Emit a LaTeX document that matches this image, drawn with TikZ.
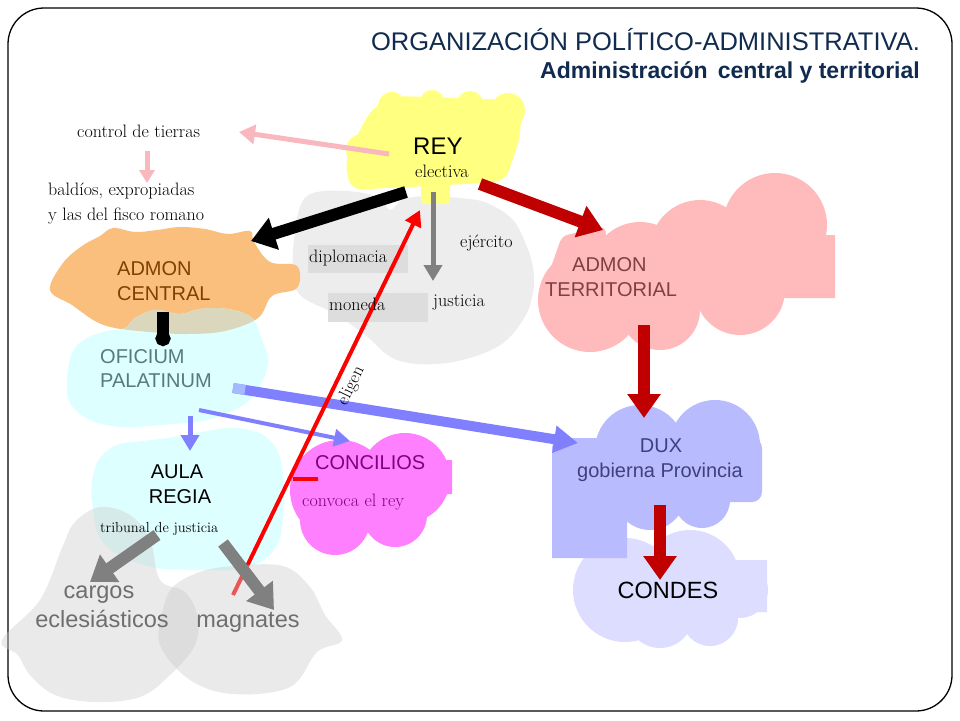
\documentclass[tikz,border=0pt]{standalone}
\usepackage{fontspec}
\newfontfamily\arialf{Liberation Sans}
\usetikzlibrary{arrows.meta,calc}
\definecolor{navy}{RGB}{16,43,79}
\definecolor{reyyel}{RGB}{255,255,128}
\definecolor{cloudgrey}{RGB}{237,237,237}
\definecolor{botgrey}{RGB}{205,205,205}
\definecolor{orangec}{RGB}{250,190,125}
\definecolor{tanc}{RGB}{218,215,188}
\definecolor{cyanc}{RGB}{222,255,255}
\definecolor{pinkc}{RGB}{255,187,187}
\definecolor{duxc}{RGB}{185,187,255}
\definecolor{condesc}{RGB}{221,221,255}
\definecolor{magc}{RGB}{255,128,255}
\definecolor{darkredc}{RGB}{192,0,0}
\definecolor{arrowgrey}{RGB}{128,128,128}
\definecolor{bluearr}{RGB}{128,128,255}
\definecolor{lightbluearr}{RGB}{165,185,255}
\definecolor{pinkarr}{RGB}{248,184,190}
\definecolor{boxgrey}{RGB}{221,221,221}
\definecolor{brownt}{RGB}{128,64,0}
\definecolor{tealt}{RGB}{90,122,122}
\definecolor{terrt}{RGB}{128,64,64}
\definecolor{purplet}{RGB}{128,0,128}
\definecolor{duxt}{RGB}{64,64,128}
\definecolor{bigt}{RGB}{110,110,110}
\begin{document}
\begin{tikzpicture}[x=1pt,y=-1pt,
  sanslbl/.style={font=\arialf\fontsize{20}{24}\selectfont, inner sep=0pt},
  biglbl/.style={font=\arialf\fontsize{23.5}{28}\selectfont, inner sep=0pt},
  seriflbl/.style={font=\fontsize{18}{21}\selectfont, inner sep=0pt},
  smallserif/.style={font=\fontsize{14.5}{17}\selectfont, inner sep=0pt},
  heavyarr/.style={line width=12pt, -{Triangle[length=24pt,width=32pt]}},
  mediumarr/.style={line width=5pt, -{Triangle[length=16pt,width=18pt]}},
  lightarr/.style={line width=4pt, -{Triangle[length=16pt,width=17pt]}},
  blob/.style={smooth cycle, tension=0.6}
]
\useasboundingbox (0,0) rectangle (960,720);
\fill[white] (0,0) rectangle (960,720);

% frame
\draw[line width=1.3pt, rounded corners=36pt] (8,8) rectangle (952,711);

% title
\node[anchor=base east, inner sep=0pt, text=navy, font=\arialf\fontsize{25.5}{30}\selectfont] (title1) at (920,50) {ORGANIZACIÓN POLÍTICO-ADMINISTRATIVA.};
\node[anchor=base east, inner sep=0pt, text=navy, font=\arialf\bfseries\fontsize{23}{27}\selectfont] (title2) at (920,78) {Administración\ \,central y territorial};

% grey cloud behind REY
\fill[cloudgrey] plot[blob] coordinates {(313,193) (347,191) (377,197) (390,210) (402,200) (425,196) (460,198) (487,203) (513,220) (527,247) (533,268) (533,293) (523,320) (497,347) (447,363) (397,360) (363,333) (333,313) (300,295) (293,270) (294,240) (300,207)};

% REY cloud
\fill[reyyel, rounded corners=12pt] (372,108) -- (395,96) -- (522,100) -- (520,138) -- (505,182) -- (350,190) -- (345,158) -- cycle;
\fill[reyyel] (392,106) circle[radius=14pt] (432,102) circle[radius=12pt] (470,104) circle[radius=13pt] (508,110) circle[radius=17pt]
  (362,150) circle[radius=16pt];
\fill[reyyel, rounded corners=4pt] (421,180) rectangle (450,204);

% ADMON CENTRAL (orange) and OFICIUM (cyan)
\def\orangepath{plot[blob] coordinates {(50,290) (63,263) (82,246) (100,236) (113,228) (135,232) (157,230) (180,227) (205,229) (228,234) (250,231) (254,242) (270,262) (297,266) (297,288) (272,296) (258,318) (225,331) (187,334) (150,332) (115,328) (95,321) (72,305)}}
\def\cyanpath{plot[blob] coordinates {(67,380) (72,353) (85,339) (107,331) (125,328) (135,318) (155,310) (180,314) (200,309) (228,309) (252,318) (262,340) (268,363) (258,390) (240,407) (207,420) (173,424) (123,427) (90,420) (70,403)}}
\fill[orangec] \orangepath;
\fill[cyanc] \cyanpath;
\begin{scope}
  \clip \orangepath;
  \fill[tanc] \cyanpath;
\end{scope}

% AULA REGIA (cyan)
\fill[cyanc, rounded corners=20pt] (105,445) -- (170,438) -- (240,425) -- (277,440) -- (286,490) -- (279,552) -- (245,571) -- (150,569) -- (98,545) -- (89,480) -- cycle;

% CONCILIOS (magenta)
\fill[magc] (340,490) circle[radius=50pt] (405,478) circle[radius=45pt] (335,520) circle[radius=35pt]
  (395,515) circle[radius=32pt] (420,460) rectangle (452,494);

% ADMON TERRITORIAL (pink)
\fill[pinkc] (775,225) circle[radius=52pt] (700,250) circle[radius=50pt] (640,272) circle[radius=50pt]
  (590,300) circle[radius=52pt] (660,310) circle[radius=40pt] (740,290) circle[radius=45pt]
  (760,235) rectangle (835,298);
\fill[pinkc, rounded corners=6pt] (562,236) -- (605,226) -- (612,290) -- (540,298) -- cycle;

% CONDES (light lavender)
\fill[condesc] (625,590) circle[radius=52pt] (690,580) circle[radius=50pt] (740,590) circle[radius=28pt]
  (660,615) circle[radius=33pt] (710,618) circle[radius=28pt] (720,560) rectangle (767,612);

% DUX (lavender)
\fill[duxc, rounded corners=10pt] (552,438) rectangle (762,502);
\fill[duxc] (640,450) circle[radius=45pt] (715,445) circle[radius=45pt] (650,495) circle[radius=35pt]
  (702,500) circle[radius=28pt] (552,480) rectangle (627,558);

% boxes behind diplomacia / moneda
\fill[boxgrey] (308,245) rectangle (408,273);
\fill[boxgrey] (328,293) rectangle (428,322);

% arrow coordinates
\coordinate (reyBL) at (406,192);
\coordinate (acIn) at (251,241);
\coordinate (reyBR) at (480,184);
\coordinate (atIn) at (603,230);
\coordinate (reyW) at (389,154);
\coordinate (ctE) at (239,132);
\coordinate (ctS) at (147,151);
\coordinate (bdN) at (147,183);
\coordinate (reyB) at (433,192);
\coordinate (jusN) at (433,281);
\coordinate (elS) at (233,595);
\coordinate (reyIn) at (420,210);
\coordinate (acS) at (163,312);
\coordinate (opN) at (163,346);
\coordinate (opS) at (190,416);
\coordinate (arN) at (190,451);
\coordinate (opSE) at (199,410);
\coordinate (coIn) at (350,441);
\coordinate (opE) at (233,388);
\coordinate (duxIn) at (578,443);
\coordinate (atS) at (644,325);
\coordinate (duxN) at (644,418);
\coordinate (duxS) at (660,505);
\coordinate (conN) at (660,580);
\coordinate (arSW) at (157,535);
\coordinate (caIn) at (90,582);
\coordinate (arSE) at (223,543);
\coordinate (maIn) at (274,610);

% arrows
\draw[heavyarr, black] (reyBL) -- (acIn);
\draw[heavyarr, darkredc] (reyBR) -- (atIn);
\draw[pinkarr, line width=5pt, -{Triangle[length=16pt,width=19pt]}] (reyW) -- (ctE);
\draw[pinkarr, line width=5pt, -{Triangle[length=13pt,width=15pt]}] (ctS) -- (bdN);
\draw[mediumarr, arrowgrey] (reyB) -- (jusN);
\draw[black, line width=12pt, -{Circle[length=15pt]}] (acS) -- (opN);
\draw[mediumarr, bluearr] (opS) -- (arN);
\draw[lightarr, bluearr] (opSE) -- (coIn);
\draw[bluearr, line width=10pt, -{Triangle[length=24pt,width=26pt]}] (opE) -- (duxIn);
\draw[lightbluearr, line width=10pt] (opE) -- ($(opE)!0.035!(duxIn)$);
\draw[heavyarr, darkredc] (atS) -- (duxN);
\draw[heavyarr, darkredc] (duxS) -- (conN);

% eligen arrow
\draw[lightarr, red] (elS) -- node[pos=0.56, sloped, below=5pt, seriflbl, text=black] (eligenlbl) {eligen} (reyIn);
\draw[red, line width=4pt] (293,479) -- (318,479);

% bottom grey clouds (semi transparent)
\fill[botgrey, fill opacity=0.42] plot[blob] coordinates {(2,640) (40,600) (62,548) (75,522) (100,507) (130,515) (150,540) (160,580) (185,592) (197,615) (195,645) (170,675) (140,697) (95,702) (55,695) (30,675) (18,655)};
\fill[botgrey, fill opacity=0.42] plot[blob] coordinates {(163,610) (173,587) (200,572) (233,566) (283,566) (310,587) (325,615) (342,640) (317,652) (290,687) (233,694) (190,680) (160,645)};

\draw[heavyarr, arrowgrey] (arSW) -- (caIn);
\draw[heavyarr, arrowgrey] (arSE) -- (maIn);

% texts
\node[anchor=base west, inner sep=0pt, font=\arialf\fontsize{24}{28}\selectfont] (rey) at (413,154) {REY};
\node[anchor=base west, seriflbl] (electiva) at (415,177) {electiva};
\node[anchor=base west, seriflbl] (control) at (77,137) {control de tierras};
\node[anchor=base west, seriflbl] (baldios1) at (48,195) {baldíos, expropiadas};
\node[anchor=base west, seriflbl] (baldios2) at (48,220) {y las del fisco romano};
\node[anchor=base west, seriflbl] (diplomacia) at (309,262) {diplomacia};
\node[anchor=base west, seriflbl] (moneda) at (329,310) {moneda};
\node[anchor=base west, seriflbl] (ejercito) at (460,247) {ejército};
\node[anchor=base west, seriflbl] (justicia) at (433,306) {justicia};

\node[anchor=base west, sanslbl, text=brownt] (admon1) at (117,275) {ADMON};
\node[anchor=base west, sanslbl, text=brownt] (admon2) at (117,300) {CENTRAL};
\node[anchor=base west, sanslbl, text=tealt] (ofic1) at (100,363) {OFICIUM};
\node[anchor=base west, sanslbl, text=tealt] (ofic2) at (100,387) {PALATINUM};
\node[anchor=base, sanslbl] (aula1) at (177,478) {AULA};
\node[anchor=base, sanslbl] (aula2) at (180,503) {REGIA};
\node[anchor=base west, smallserif] (tribunal) at (100,532) {tribunal de justicia};
\node[anchor=base, biglbl, text=bigt] (cargos1) at (99,598) {cargos};
\node[anchor=base, biglbl, text=bigt] (cargos2) at (102,627) {eclesiásticos};
\node[anchor=base, biglbl, text=bigt] (magnates) at (248,627) {magnates};
\node[anchor=base west, sanslbl, text=purplet] (concilios) at (315,469) {CONCILIOS};
\node[anchor=base west, seriflbl, text=purplet] (convoca) at (302,506) {convoca el rey};
\node[anchor=base west, sanslbl, text=terrt] (terr1) at (572,271) {ADMON};
\node[anchor=base west, sanslbl, text=terrt] (terr2) at (545,296) {TERRITORIAL};
\node[anchor=base, sanslbl, text=duxt] (dux1) at (661,452) {DUX};
\node[anchor=base, sanslbl, text=duxt] (dux2) at (660,477) {gobierna Provincia};
\node[anchor=base, biglbl] (condes) at (668,598) {CONDES};
\end{tikzpicture}
\end{document}
